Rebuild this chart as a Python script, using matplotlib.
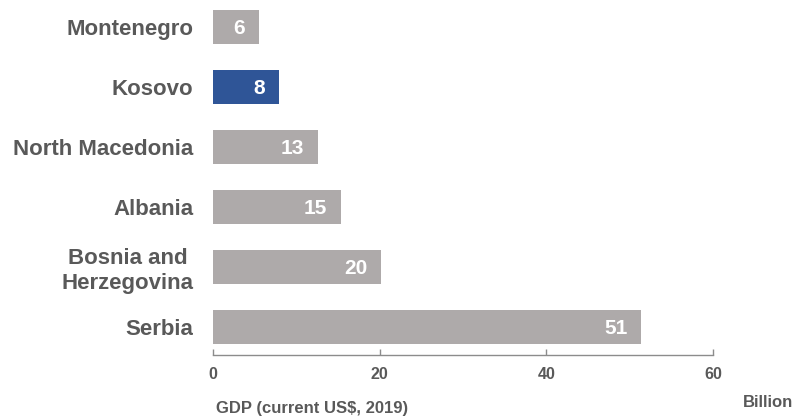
import matplotlib
matplotlib.use('Agg')
import matplotlib.pyplot as plt

# GDP of the Western Balkan economies, current US$ billions, 2019
countries = ['Serbia', 'Bosnia and\nHerzegovina', 'Albania', 'North Macedonia', 'Kosovo', 'Montenegro']
gdp_bn = [51.4, 20.2, 15.3, 12.6, 7.9, 5.5]
highlight = 'Kosovo'

grey = '#aeaaaa'
blue = '#2f5597'
text_col = '#595959'

plt.rcParams['font.family'] = ['Liberation Sans', 'DejaVu Sans']
plt.rcParams['font.weight'] = 'bold'

fig = plt.figure(figsize=(7.96, 4.17), dpi=100)
ax = fig.add_axes([213 / 796, 62 / 417, 500 / 796, 355 / 417])

ypos = list(range(len(countries)))
colours = [blue if c == highlight else grey for c in countries]
ax.barh(ypos, gdp_bn, height=0.57, color=colours, zorder=2)

# value labels sit inside the end of each bar
for y, v in zip(ypos, gdp_bn):
    ax.annotate('%.0f' % v, xy=(v, y), xytext=(-10, -1), textcoords='offset points',
                ha='right', va='center', color='white', fontsize=15, fontweight='bold')

ax.set_xlim(0, 60)
ax.set_ylim(-0.467, 5.45)
ax.set_xticks([0, 20, 40, 60])
ax.set_yticks(ypos)
ax.set_yticklabels(countries, fontsize=16, fontweight='bold', color=text_col,
                   multialignment='center')

for s in ['top', 'right', 'left']:
    ax.spines[s].set_visible(False)
ax.spines['bottom'].set_color('#8c8c8c')
ax.spines['bottom'].set_linewidth(1.0)

ax.tick_params(axis='y', length=0, pad=14)
ax.tick_params(axis='x', direction='in', length=4, width=1, color='#8c8c8c',
               pad=8.5, labelsize=11.5, labelcolor=text_col)
for lbl in ax.get_xticklabels():
    lbl.set_fontweight('bold')

fig.text(216 / 796, 1 - 408.5 / 417, 'GDP (current US$, 2019)', ha='left', va='center',
         fontsize=12, fontweight='bold', color=text_col)
fig.text(793 / 796, 1 - 402.5 / 417, 'Billion', ha='right', va='center',
         fontsize=12, fontweight='bold', color=text_col)

fig.savefig('out.png', dpi=100)
